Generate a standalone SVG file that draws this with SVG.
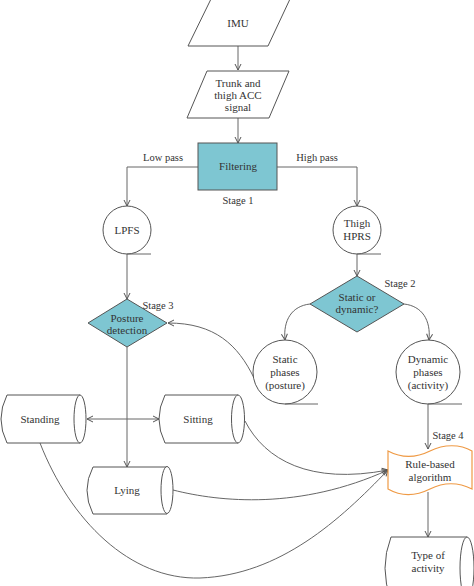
<svg xmlns="http://www.w3.org/2000/svg" width="474" height="586" viewBox="0 0 474 586">
<defs>
<style>
.s{fill:#fff;stroke:#555;stroke-width:1}
.b{fill:#7ec6d2;stroke:#555;stroke-width:1}
.o{fill:#fff;stroke:#ef9a45;stroke-width:1.2}
.c{fill:none;stroke:#666;stroke-width:1}
.t{font-family:"Liberation Serif",serif;font-size:11px;fill:#333;text-anchor:middle}
.g{font-family:"Liberation Serif",serif;font-size:10.5px;fill:#333;text-anchor:middle}
</style>
<marker id="a" viewBox="0 0 8 8" refX="7" refY="4" markerWidth="8" markerHeight="8" markerUnits="userSpaceOnUse" orient="auto-start-reverse">
<path d="M1,1 L7,4 L1,7" fill="none" stroke="#555" stroke-width="1"/>
</marker>
</defs>
<rect width="474" height="586" fill="#fff"/>

<g id="connectors">
<path class="c" d="M238,46 V70" marker-end="url(#a)"/>
<path class="c" d="M238,118 V143" marker-end="url(#a)"/>
<path class="c" d="M198,167 H127 V206" marker-end="url(#a)"/>
<path class="c" d="M277,167 H357 V206" marker-end="url(#a)"/>
<path class="c" d="M127,254 V299" marker-end="url(#a)"/>
<path class="c" d="M357,254 V276" marker-end="url(#a)"/>
<path class="c" d="M310,304 C292,306 283,320 285,340" marker-end="url(#a)"/>
<path class="c" d="M404,304 C422,306 431,320 429,340" marker-end="url(#a)"/>
<path class="c" d="M254,378 C238,345 215,323 168,323" marker-end="url(#a)"/>
<path class="c" d="M127,347 V467" marker-end="url(#a)"/>
<path class="c" d="M87,419 H159" marker-start="url(#a)" marker-end="url(#a)"/>
<path class="c" d="M428,404 V449" marker-end="url(#a)"/>
<path class="c" d="M428,492 V537" marker-end="url(#a)"/>
<path class="c" d="M245,421 C265,460 310,485 388,470" marker-end="url(#a)"/>
<path class="c" d="M173,490 C220,502 300,510 388,470" marker-end="url(#a)"/>
<path class="c" d="M40,443 C70,520 130,580 200,578 C280,575 340,520 388,470" marker-end="url(#a)"/>
</g>

<g id="imu">
<polygon class="s" points="211,-1 290,-1 268,46 188,46"/>
<text class="t" x="238" y="27">IMU</text>
</g>

<g id="trunk">
<polygon class="s" points="207,71 289,71 269,118 187,118"/>
<text class="t" x="238" y="87">Trunk and</text>
<text class="t" x="238" y="99">thigh ACC</text>
<text class="t" x="238" y="111">signal</text>
</g>

<g id="filtering">
<rect class="b" x="198" y="143" width="79" height="47"/>
<text class="t" x="238" y="170">Filtering</text>
<text class="g" x="238" y="204">Stage 1</text>
<text class="g" x="163" y="161">Low pass</text>
<text class="g" x="317" y="161">High pass</text>
</g>

<g id="lpfs">
<circle class="s" cx="127" cy="230" r="24"/>
<path class="c" d="M127,254 H151"/>
<text class="t" x="127" y="234">LPFS</text>
</g>

<g id="hprs">
<circle class="s" cx="357" cy="230" r="24"/>
<path class="c" d="M357,254 H381"/>
<text class="t" x="357" y="227">Thigh</text>
<text class="t" x="357" y="240">HPRS</text>
</g>

<g id="posture">
<polygon class="b" points="127,299 167,323 127,347 88,323"/>
<text class="t" x="127" y="322">Posture</text>
<text class="t" x="127" y="334">detection</text>
<text class="g" x="158" y="309">Stage 3</text>
</g>

<g id="static-dynamic">
<polygon class="b" points="357,276 404,304 357,332 310,304"/>
<text class="t" x="357" y="301">Static or</text>
<text class="t" x="357" y="313">dynamic?</text>
<text class="g" x="400" y="287">Stage 2</text>
</g>

<g id="static">
<circle class="s" cx="285" cy="372" r="32"/>
<path class="c" d="M285,404 H318"/>
<text class="t" x="285" y="363">Static</text>
<text class="t" x="285" y="376">phases</text>
<text class="t" x="285" y="389">(posture)</text>
</g>

<g id="dynamic">
<circle class="s" cx="428" cy="372" r="32"/>
<path class="c" d="M428,404 H462"/>
<text class="t" x="428" y="363">Dynamic</text>
<text class="t" x="428" y="376">phases</text>
<text class="t" x="428" y="389">(activity)</text>
</g>

<g id="standing">
<path class="s" d="M80,395 H7 Q-5,419 7,443 H80"/>
<ellipse class="s" cx="80" cy="419" rx="6" ry="24"/>
<text class="t" x="40" y="423">Standing</text>
</g>

<g id="sitting">
<path class="s" d="M238,395 H165 Q153,419 165,443 H238"/>
<ellipse class="s" cx="238" cy="419" rx="6.5" ry="24"/>
<text class="t" x="198" y="423">Sitting</text>
</g>

<g id="lying">
<path class="s" d="M167,467 H93 Q81,490 93,514 H167"/>
<ellipse class="s" cx="167" cy="490" rx="6" ry="23.5"/>
<text class="t" x="127" y="494">Lying</text>
</g>

<g id="rule">
<path class="o" d="M388,451 C403,459 416,458 430,451 C444,444 460,444 472,451 V489 C458,482 444,482 430,489 C416,496 402,497 388,489 Z"/>
<text class="t" x="430" y="468">Rule-based</text>
<text class="t" x="430" y="481">algorithm</text>
<text class="g" x="448" y="439">Stage 4</text>
</g>

<g id="type">
<path class="s" d="M467,537 H391 Q379,568 391,600 H467"/>
<ellipse class="s" cx="467" cy="568" rx="7" ry="31"/>
<text class="t" x="428" y="559">Type of</text>
<text class="t" x="428" y="572">activity</text>
</g>
</svg>
